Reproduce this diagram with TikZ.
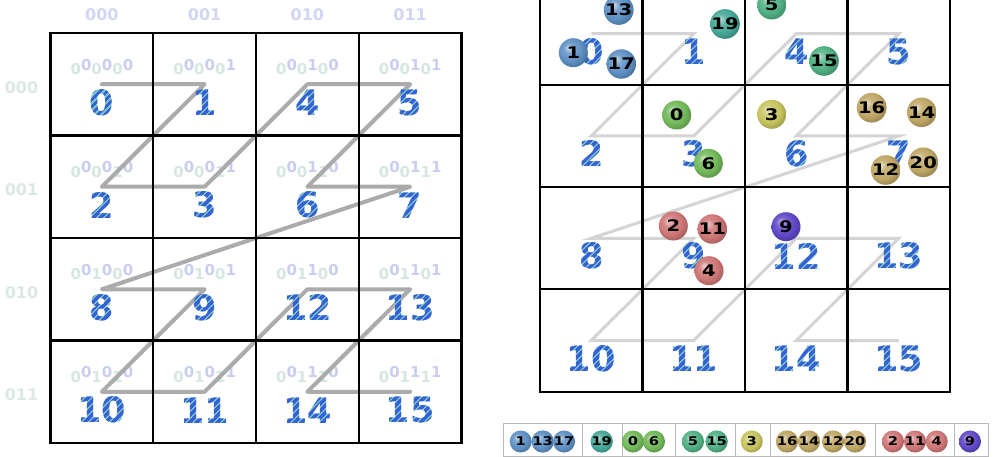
\documentclass[tikz,border=0pt]{standalone}
\usepackage{fontspec}
\setmainfont{DejaVu Sans}
\definecolor{numblue}{HTML}{3A5FDA}
\definecolor{numteal}{HTML}{74C6BA}
\definecolor{hic}{HTML}{C9CEF0}
\definecolor{loc}{HTML}{D6E7E0}
\definecolor{colhdr}{HTML}{D2D6F2}
\definecolor{rowhdr}{HTML}{DBE9E3}
\definecolor{curveL}{HTML}{ABABAB}
\definecolor{curveR}{HTML}{D4D4D4}
\definecolor{bBlue}{HTML}{5E90C4}
\definecolor{bTeal}{HTML}{45A898}
\definecolor{bGreen}{HTML}{72B85A}
\definecolor{bSea}{HTML}{50B083}
\definecolor{bOlive}{HTML}{C6C45E}
\definecolor{bKhaki}{HTML}{BFA765}
\definecolor{bRose}{HTML}{CF7676}
\definecolor{bPurple}{HTML}{6048C8}
\makeatletter
\pgfdeclareradialshading[tikz@ball]{softball}{\pgfqpoint{-9bp}{9bp}}{%
  color(0bp)=(tikz@ball!35!white);
  color(9bp)=(tikz@ball!85!white);
  color(20bp)=(tikz@ball);
  color(32bp)=(tikz@ball!75!black);
  color(50bp)=(tikz@ball!40!black)}
\makeatother
\newcommand\bitsx[6]{\textcolor{loc}{\raisebox{-2.5pt}{#1}}\textcolor{hic}{\raisebox{2pt}{#2}}\textcolor{loc}{\raisebox{-2.5pt}{#3}}\textcolor{hic}{\raisebox{2pt}{#4}}\textcolor{loc}{\raisebox{-2.5pt}{#5}}\textcolor{hic}{\raisebox{2pt}{#6}}}
\newcommand\widenum[1]{\scalebox{1.22}[1]{#1}}
\begin{document}
\begin{tikzpicture}[x=1pt,y=-1pt,
  cellnum/.style={font=\fontsize{35}{35}\selectfont\bfseries, inner sep=0pt},
  binlab/.style={font=\fontsize{15}{15}\selectfont\bfseries, inner sep=0pt},
  hdrcol/.style={font=\fontsize{16}{16}\selectfont\bfseries, inner sep=0pt, text=colhdr},
  hdrrow/.style={font=\fontsize{16}{16}\selectfont\bfseries, inner sep=0pt, text=rowhdr},
  ball/.style={circle, ball color=#1, shading=softball, minimum size=29pt, inner sep=0pt, font=\fontsize{16}{16}\selectfont\bfseries},
  lball/.style={circle, ball color=#1, shading=softball, minimum size=22pt, inner sep=0pt, font=\fontsize{12}{12}\selectfont\bfseries},
  gridL/.style={line width=2.4pt, black, line cap=rect},
  gridR/.style={line width=2.1pt, black, line cap=rect},
  zcurveL/.style={line width=4pt, curveL, line join=round, line cap=round},
  zcurveR/.style={line width=3pt, curveR, line join=miter},
  legendbox/.style={draw=gray!55, line width=1pt}]
\useasboundingbox (0,0) rectangle (993,457);
\clip (0,0) rectangle (993,457);
\fill[white] (0,0) rectangle (993,457);

% cell coordinates
\foreach \n/\c/\r in {0/0/0,1/1/0,2/0/1,3/1/1,4/2/0,5/3/0,6/2/1,7/3/1,8/0/2,9/1/2,10/0/3,11/1/3,12/2/2,13/3/2,14/2/3,15/3/3}{
  \coordinate (L\n) at ({101.9+102.75*\c},{84.25+102.5*\r});
  \coordinate (R\n) at ({591.25+102.5*\c},{33.65+102.3*\r});
}

% headers
\foreach \i/\t in {0/000,1/001,2/010,3/011}{
  \node[hdrcol] (ch\i) at ({101.9+102.75*\i},15) {\t};
  \node[hdrrow] (rh\i) at (21.5,{87.5+102.5*\i}) {\t};
}

% binary labels
\foreach \n/\bb in {0/000000,1/000001,2/000010,3/000011,4/000100,5/000101,6/000110,7/000111,8/001000,9/001001,10/001010,11/001011,12/001100,13/001101,14/001110,15/001111}{
  \node[binlab] (B\n) at ([yshift=17pt]L\n) {\expandafter\bitsx\bb};
}

% Z curves
\draw[zcurveL] (L0) \foreach \n in {1,...,15}{ -- (L\n) };
\draw[zcurveR] (R0) \foreach \n in {1,...,15}{ -- (R\n) };

% grids
\foreach \i in {0,...,4}{
  \draw[gridL] ({50.5+102.75*\i},33) -- ({50.5+102.75*\i},443);
  \draw[gridL] (50.5,{33+102.5*\i}) -- (461.5,{33+102.5*\i});
  \draw[gridR] ({540+102.5*\i},-17.5) -- ({540+102.5*\i},391.7);
  \draw[gridR] (540,{-17.5+102.3*\i}) -- (950,{-17.5+102.3*\i});
}

% numbers (teal base)
\foreach \n in {0,...,15}{
  \node[cellnum, text=numteal] (NL\n) at ([yshift=-18.5pt]L\n) {\n};
  \node[cellnum, text=numteal] (NR\n) at ([yshift=-18pt]R\n) {\n};
}
% blue stripes
\begin{scope}
  \clip \foreach \a in {0,7,...,1500}{ (\a,0) -- ++(4,0) -- ++(-460,460) -- ++(-4,0) -- cycle };
  \foreach \n in {0,...,15}{
    \node[cellnum, text=numblue] (SL\n) at ([yshift=-18.5pt]L\n) {\n};
    \node[cellnum, text=numblue] (SR\n) at ([yshift=-18pt]R\n) {\n};
  }
\end{scope}

% balls in right grid
\foreach \t/\x/\y/\col in {13/618.7/10/bBlue, 1/573.3/52.7/bBlue, 17/621.3/64/bBlue, 19/725/24/bTeal,
  0/676.7/115/bGreen, 6/708.3/163.3/bGreen, 5/771.7/5/bSea, 15/824/61/bSea, 3/771.7/114.3/bOlive,
  16/871.7/107.7/bKhaki, 14/921.7/112.3/bKhaki, 20/923.3/162.3/bKhaki, 12/885.7/170/bKhaki,
  2/673.3/226/bRose, 11/712.3/229/bRose, 4/709/270.7/bRose, 9/786/226.7/bPurple}{
  \node[ball=\col] (ball\t) at (\x,\y) {\widenum{\t}};
}

% legend
\draw[legendbox] (503,423) rectangle (988,456);
\foreach \s in {582,622,675,735,770,875,954}{
  \draw[legendbox] (\s,423) -- (\s,456);
}
\foreach \t/\x/\col in {1/520.7/bBlue, 13/542.7/bBlue, 17/564/bBlue, 19/601.7/bTeal,
  0/633/bGreen, 6/654/bGreen, 5/693/bSea, 15/716.7/bSea, 3/751.7/bOlive,
  16/787/bKhaki, 14/809/bKhaki, 12/833/bKhaki, 20/855/bKhaki,
  2/893/bRose, 11/915/bRose, 4/936.7/bRose, 9/970/bPurple}{
  \node[lball=\col] (leg\t) at (\x,441.5) {\widenum{\t}};
}
\end{tikzpicture}
\end{document}
